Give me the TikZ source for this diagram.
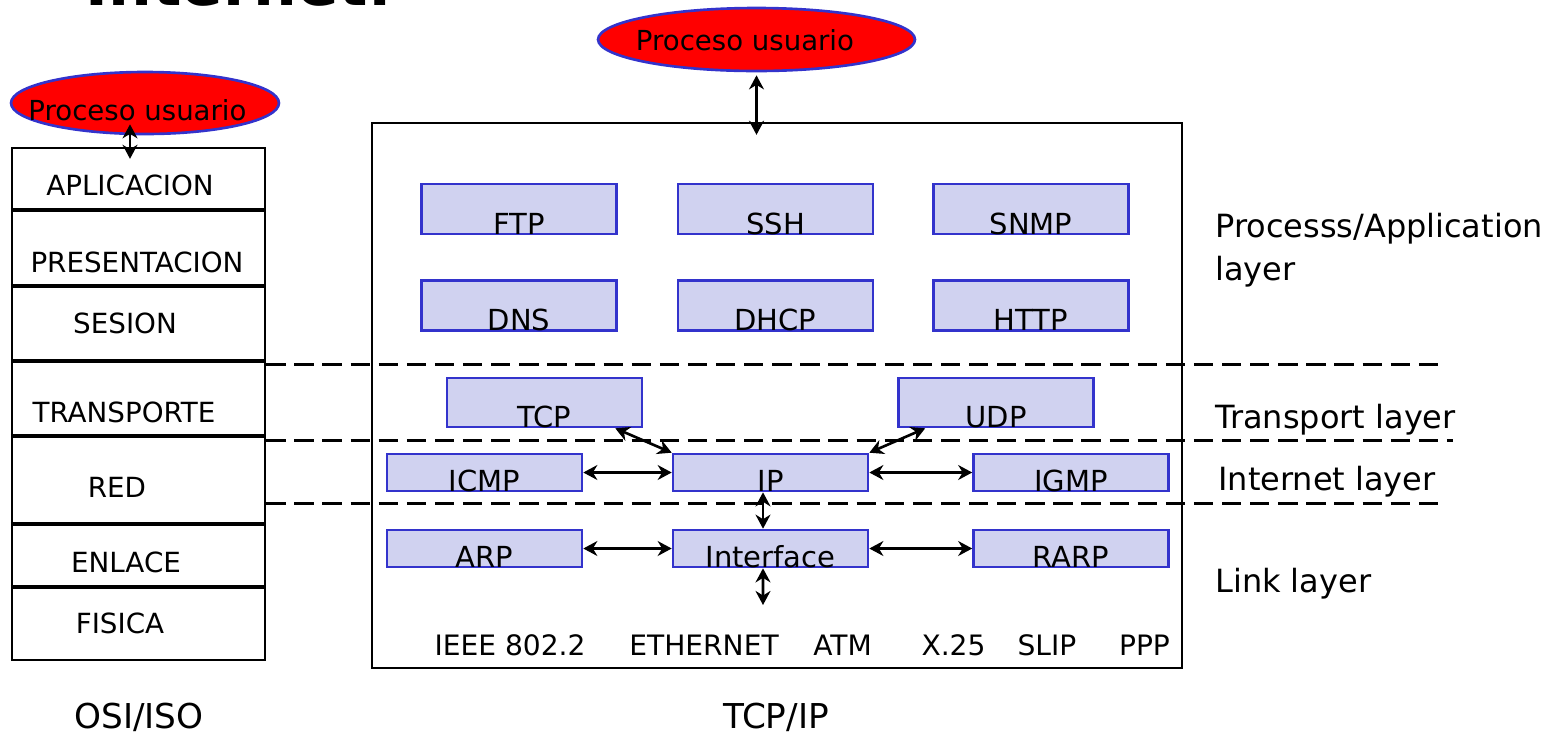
\documentclass[tikz,border=0pt]{standalone}
\usepackage{fontspec}
\setmainfont{DejaVu Sans}
\usetikzlibrary{positioning, arrows.meta, shapes.geometric}
\definecolor{protofill}{RGB}{208,210,240}
\definecolor{protoedge}{RGB}{51,51,204}
\definecolor{procred}{RGB}{255,0,0}
\tikzset{
  proto/.style={
    draw=protoedge, fill=protofill, line width=1.5pt,
    minimum width=3.9cm, minimum height=#1, text height=#1,
    text depth=0pt, inner xsep=0pt, inner ysep=0pt,
    font=\fontsize{16.5}{19}\selectfont
  },
  proto/.default=1cm,
  usr/.style={ellipse, draw=protoedge, fill=procred, line width=1.5pt, inner sep=0pt},
  usrtext/.style={anchor=base, inner sep=0pt, font=\fontsize{15.7}{19}\selectfont},
  stackbox/.style={draw=black, line width=1.4pt, inner sep=0pt},
  osidiv/.style={line width=2pt},
  osilabel/.style={inner sep=0pt, font=\fontsize{15.8}{19}\selectfont},
  linktext/.style={anchor=base, inner sep=0pt, font=\fontsize{16}{19}\selectfont},
  layertext/.style={anchor=base west, inner sep=0pt, align=left,
    font=\fontsize{18.2}{24.4}\selectfont},
  captext/.style={anchor=base, inner sep=0pt, font=\fontsize{19.5}{23}\selectfont},
  biarrow/.style={<->, >={Stealth[length=8pt, width=8.5pt]}, line width=1.5pt},
  layersep/.style={dash pattern=on 11pt off 5pt, line width=1.7pt}
}

\begin{document}
\begin{tikzpicture}[x=0.02cm, y=-0.02cm]
  \useasboundingbox (0,0) rectangle (1567,748);

  % slide heading, mostly off the top edge
  \node[anchor=base west, inner sep=0pt, font=\fontsize{35}{42}\selectfont\bfseries] (title) at (85,5) {Internet.};

  % OSI/ISO stack
  \node[stackbox, minimum width=5.06cm, minimum height=10.24cm] (osi) at (138.5,404) {};
  \foreach \y in {210,286,361,436,524,587}
    \draw[osidiv] (osi.west |- 0,\y) -- (osi.east |- 0,\y);
  \foreach \name/\px/\py/\txt in {apl/130/185/APLICACION, pre/137/262/PRESENTACION,
      ses/125/323/SESION, tra/124/412/TRANSPORTE, red/117/487/RED,
      enl/126/562/ENLACE, fis/120/623/FISICA}
    \node[osilabel] (\name) at (\px,\py) {\txt};

  \node[usr, minimum width=5.36cm, minimum height=1.24cm] (usrosi) at (145,103) {};
  \node[usrtext] (usrositxt) at (137.5,120) {Proceso usuario};
  \draw[biarrow] ([yshift=0.22cm]usrosi.south -| apl) -- ([yshift=-0.24cm]osi.north -| apl);

  % TCP/IP stack
  \node[stackbox, minimum width=16.2cm, minimum height=10.9cm] (tcpip) at (777,395.5) {};
  \node[usr, minimum width=6.34cm, minimum height=1.26cm] (usrtcp) at (756.5,39.5) {};
  \node[usrtext] (usrtcptxt) at (745,50) {Proceso usuario};
  \draw[biarrow] ([yshift=-0.06cm]usrtcp.south) -- ([yshift=-0.26cm]tcpip.north -| usrtcp.south);

  % application protocols
  \foreach \name/\cx/\cy/\txt in {ftp/519/209/FTP, ssh/775.5/209/SSH, snmp/1031/209/SNMP,
      dns/519/305.5/DNS, dhcp/775.5/305.5/DHCP, http/1031/305.5/HTTP}
    \node[proto=1cm] (\name) at (\cx,\cy) {\txt};

  % transport, internet and link protocols
  \node[proto=0.98cm] (tcp) at (544.5,402.5) {TCP};
  \node[proto=0.98cm] (udp) at (996,402.5) {UDP};
  \node[proto=0.74cm] (icmp) at (484.5,472.5) {ICMP};
  \node[proto=0.74cm] (ip) at (770.5,472.5) {IP};
  \node[proto=0.74cm] (igmp) at (1071,472.5) {IGMP};
  \node[proto=0.74cm] (arp) at (484.5,548.5) {ARP};
  \node[proto=0.74cm] (iface) at (770.5,548.5) {Interface};
  \node[proto=0.74cm] (rarp) at (1071,548.5) {RARP};

  \draw[biarrow] ([xshift=-0.56cm]tcp.south east) -- (ip.north west);
  \draw[biarrow] ([xshift=0.56cm]udp.south west) -- (ip.north east);
  \draw[biarrow] (icmp) -- (ip);
  \draw[biarrow] (ip) -- (igmp);
  \draw[biarrow] (arp) -- (iface);
  \draw[biarrow] (iface) -- (rarp);
  \draw[biarrow] ([xshift=-0.15cm]ip.south) -- ([xshift=-0.15cm]iface.north);
  \coordinate (phys) at (763,605);
  \draw[biarrow] ([xshift=-0.15cm]iface.south) -- (phys);

  % physical networks
  \foreach \name/\cx/\txt in {ieee/510/IEEE 802.2, eth/704/ETHERNET, atm/842.5/ATM,
      x25/953.5/X.25, slip/1047/SLIP, ppp/1144.5/PPP}
    \node[linktext] (\name) at (\cx,655) {\txt};

  % layer boundaries
  \coordinate (sepapp) at (1438,364);
  \coordinate (septra) at (1453,440);
  \coordinate (sepnet) at (1440,503);
  \draw[layersep] (osi.east |- sepapp) -- (sepapp);
  \draw[layersep] (osi.east |- septra) -- (septra);
  \draw[layersep] (osi.east |- sepnet) -- (sepnet);

  \node[layertext] (lapp) at (1215,280) {Processs/Application\\layer};
  \node[layertext] (ltra) at (1215,428) {Transport layer};
  \node[layertext] (lnet) at (1218,490) {Internet layer};
  \node[layertext] (llink) at (1215,592) {Link layer};

  \node[captext] (cosi) at (139,728) {OSI/ISO};
  \node[captext] (ctcp) at (776,728) {TCP/IP};
\end{tikzpicture}
\end{document}
